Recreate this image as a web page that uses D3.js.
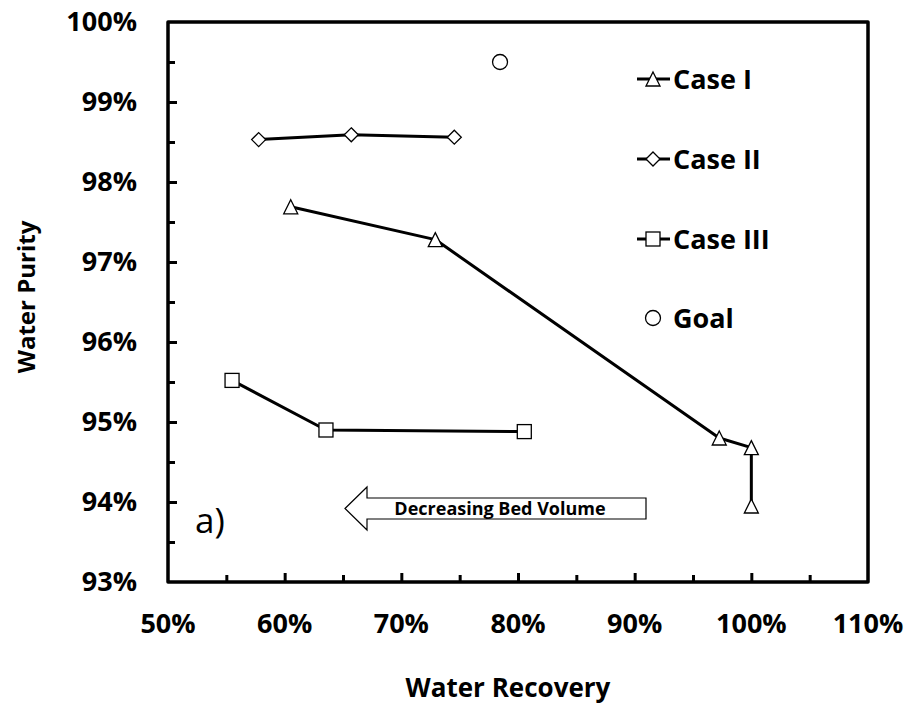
<!DOCTYPE html>
<html>
<head>
<meta charset="utf-8">
<script src="https://cdn.jsdelivr.net/npm/d3@7/dist/d3.min.js"></script>
<style>
  html, body { margin: 0; padding: 0; background: #fff; }
  svg { display: block; }
  text { font-family: "Open Sans", "DejaVu Sans", sans-serif; }
</style>
</head>
<body>
<script>
// Water recovery (x) vs. water purity (y) for three bed configurations
const caseIRecovery  = [0.6052, 0.7291, 0.9725, 1.0000, 1.0000];
const caseIPurity    = [0.9769, 0.9728, 0.9480, 0.9468, 0.9395];
const caseIIRecovery = [0.5777, 0.6571, 0.7454];
const caseIIPurity   = [0.9853, 0.9859, 0.9856];
const caseIIIRecovery = [0.5549, 0.6354, 0.8054];
const caseIIIPurity   = [0.9552, 0.9490, 0.9488];
const goalRecovery = [0.7846];
const goalPurity   = [0.9950];

const seriesNames = ["Case I", "Case II", "Case III", "Goal"];
const xTickValues = [0.5, 0.6, 0.7, 0.8, 0.9, 1.0, 1.1];
const yTickValues = [0.93, 0.94, 0.95, 0.96, 0.97, 0.98, 0.99, 1.00];
const xTitle = "Water Recovery";
const yTitle = "Water Purity";
const arrowLabel = "Decreasing Bed Volume";
const panelLabel = "a)";

const W = 909, H = 706;
const plotL = 168, plotR = 868, plotT = 22, plotB = 582;

const svg = d3.select("body").append("svg").attr("width", W).attr("height", H);

const x = d3.scaleLinear().domain([0.5, 1.1]).range([plotL, plotR]);
const y = d3.scaleLinear().domain([0.93, 1.0]).range([plotB, plotT]);
const pct = d3.format(".0%");

// marker shapes
const markerSize = 14;
function drawMarker(g, shape, cx, cy) {
  const s = markerSize, h = s / 2;
  let el;
  if (shape === "triangle") {
    el = g.append("path").attr("d", `M${cx},${cy - h}L${cx + h},${cy + h}L${cx - h},${cy + h}Z`);
  } else if (shape === "diamond") {
    el = g.append("path").attr("d", `M${cx},${cy - h}L${cx + h},${cy}L${cx},${cy + h}L${cx - h},${cy}Z`);
  } else if (shape === "square") {
    el = g.append("rect").attr("x", cx - h).attr("y", cy - h).attr("width", s).attr("height", s);
  } else {
    el = g.append("circle").attr("cx", cx).attr("cy", cy).attr("r", 7.5);
  }
  el.attr("fill", "#fff").attr("stroke", "#000").attr("stroke-width", 1.3);
}

// axes (ticks inward, labels placed separately)
const xAxis = d3.axisBottom(x).tickValues(d3.range(0.5, 1.1001, 0.05)).tickSize(0).tickFormat("");
const yAxis = d3.axisLeft(y).tickValues(d3.range(0.93, 1.0001, 0.005)).tickSize(0).tickFormat("");

const gx = svg.append("g").attr("transform", `translate(0,${plotB})`).call(xAxis);
gx.select(".domain").remove();
gx.selectAll(".tick line")
  .attr("y2", (d, i) => i % 2 === 0 ? -9 : -7)
  .attr("stroke", "#000").attr("stroke-width", 3);
gx.selectAll(".tick").filter((d, i) => i === 0 || i === 12).remove();

const gy = svg.append("g").attr("transform", `translate(${plotL},0)`).call(yAxis);
gy.select(".domain").remove();
gy.selectAll(".tick line")
  .attr("x2", (d, i) => i % 2 === 0 ? 9 : 7)
  .attr("stroke", "#000").attr("stroke-width", 3);
gy.selectAll(".tick").filter((d, i) => i === 0 || i === 14).remove();

// plot frame
svg.append("rect")
  .attr("x", plotL).attr("y", plotT)
  .attr("width", plotR - plotL).attr("height", plotB - plotT)
  .attr("fill", "none").attr("stroke", "#000").attr("stroke-width", 3.5)
  .attr("stroke-linejoin", "round");

// tick labels
svg.append("g").selectAll("text").data(xTickValues).join("text")
  .attr("x", d => x(d)).attr("y", 633)
  .attr("text-anchor", "middle")
  .attr("font-size", 27).attr("font-weight", 700)
  .text(d => pct(d));

svg.append("g").selectAll("text").data(yTickValues).join("text")
  .attr("x", 137).attr("y", d => y(d))
  .attr("dy", "0.35em")
  .attr("text-anchor", "end")
  .attr("font-size", 27).attr("font-weight", 700)
  .text(d => pct(d));

// axis titles
svg.append("text")
  .attr("x", 508).attr("y", 697)
  .attr("text-anchor", "middle")
  .attr("font-size", 26).attr("font-weight", 700)
  .text(xTitle);

svg.append("text")
  .attr("transform", `translate(35,${(plotT + plotB) / 2 - 5}) rotate(-90)`)
  .attr("text-anchor", "middle")
  .attr("font-size", 24).attr("font-weight", 700)
  .text(yTitle);

// series
const series = [
  { rec: caseIRecovery, pur: caseIPurity, shape: "triangle" },
  { rec: caseIIRecovery, pur: caseIIPurity, shape: "diamond" },
  { rec: caseIIIRecovery, pur: caseIIIPurity, shape: "square" }
];

const line = d3.line().x(d => x(d[0])).y(d => y(d[1]));

series.forEach(s => {
  const pts = s.rec.map((r, i) => [r, s.pur[i]]);
  svg.append("path").datum(pts)
    .attr("d", line)
    .attr("fill", "none").attr("stroke", "#000").attr("stroke-width", 3)
    .attr("stroke-linejoin", "round");
  const g = svg.append("g");
  pts.forEach(p => drawMarker(g, s.shape, x(p[0]), y(p[1])));
});

goalRecovery.forEach((r, i) => drawMarker(svg.append("g"), "circle", x(r), y(goalPurity[i])));

// legend
const legendShapes = ["triangle", "diamond", "square", "circle"];
const legendY = [79, 159, 239, 318];
legendShapes.forEach((shape, i) => {
  const g = svg.append("g");
  if (shape !== "circle") {
    g.append("line").attr("x1", 637).attr("x2", 670)
      .attr("y1", legendY[i]).attr("y2", legendY[i])
      .attr("stroke", "#000").attr("stroke-width", 3);
  }
  drawMarker(g, shape, 653, legendY[i]);
  g.append("text")
    .attr("x", 673).attr("y", legendY[i]).attr("dy", "0.36em")
    .attr("font-size", 27).attr("font-weight", 700)
    .text(seriesNames[i]);
});

// panel label
svg.append("text")
  .attr("x", 195).attr("y", 533)
  .attr("font-size", 35).attr("font-weight", 400)
  .text(panelLabel);

// block arrow pointing left
const ax0 = 345, ax1 = 367, ax2 = 646;
const ayTop = 487, ayBot = 530, bTop = 498, bBot = 519;
const aMid = (ayTop + ayBot) / 2;
svg.append("path")
  .attr("d", `M${ax0},${aMid}L${ax1},${ayTop}L${ax1},${bTop}L${ax2},${bTop}L${ax2},${bBot}L${ax1},${bBot}L${ax1},${ayBot}Z`)
  .attr("fill", "#fff").attr("stroke", "#000").attr("stroke-width", 1.2);
svg.append("text")
  .attr("x", 500).attr("y", (bTop + bBot) / 2).attr("dy", "0.36em")
  .attr("text-anchor", "middle")
  .attr("font-size", 18).attr("font-weight", 700)
  .text(arrowLabel);
</script>
</body>
</html>
